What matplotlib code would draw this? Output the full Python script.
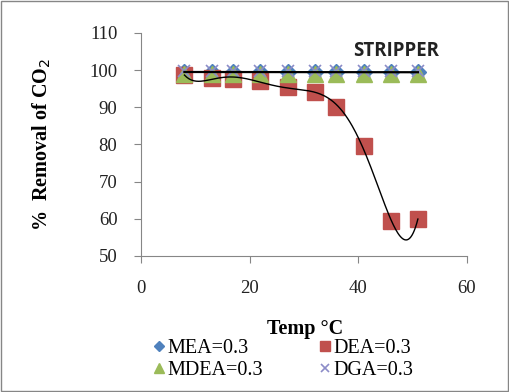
import numpy as np
import matplotlib
matplotlib.use('Agg')
import matplotlib.pyplot as plt
from matplotlib.patches import Rectangle

temp = [8, 13, 17, 22, 27, 32, 36, 41, 46, 51]
mea = [99.4, 99.5, 99.5, 99.5, 99.5, 99.5, 99.5, 99.4, 99.4, 99.4]
dea = [98.6, 97.9, 97.5, 97.0, 95.5, 94.0, 90.0, 79.5, 59.5, 60.0]
mdea = [99.0, 99.0, 99.0, 99.0, 99.0, 99.0, 99.0, 99.0, 99.0, 99.0]
dga = [99.8, 99.8, 99.8, 99.8, 99.8, 99.8, 99.8, 99.8, 99.8, 99.8]

serif = ['Liberation Serif', 'DejaVu Serif']

fig = plt.figure(figsize=(5.09, 3.92), dpi=100)
ax = fig.add_axes([0.277, 0.347, 0.64, 0.569])

h_mea, = ax.plot(temp, mea, linestyle='none', marker='D', color='#4F81BD', markersize=8, label='MEA=0.3')
h_dea, = ax.plot(temp, dea, linestyle='none', marker='s', color='#C0504D', markersize=11, label='DEA=0.3')
h_mdea, = ax.plot(temp, mdea, linestyle='none', marker='^', color='#9BBB59', markersize=11, label='MDEA=0.3')
h_dga, = ax.plot(temp, dga, linestyle='none', marker='x', color='#8C8CC8', markersize=9, markeredgewidth=1.2, label='DGA=0.3')

# trendlines (Excel-style polynomial)
xs = np.linspace(temp[0], temp[-1], 200)
p_dea = np.polyfit(temp, dea, 6)
ax.plot(xs, np.polyval(p_dea, xs), color='black', lw=1.0)
p_top = np.polyfit(temp, mea, 1)
ax.plot(xs, np.polyval(p_top, xs), color='black', lw=1.6)

ax.set_xlim(0, 60)
ax.set_ylim(50, 110)
ax.set_xticks([0, 20, 40, 60])
ax.set_yticks(range(50, 111, 10))
for s in ['top', 'right']:
    ax.spines[s].set_visible(False)
for s in ['left', 'bottom']:
    ax.spines[s].set_color('#868686')
ax.tick_params(axis='both', colors='#868686', labelcolor='#222222', length=5, labelsize=13.5)
for lab in ax.get_xticklabels() + ax.get_yticklabels():
    lab.set_family(serif)
ax.tick_params(axis='x', pad=12)
ax.tick_params(axis='y', pad=12)

ax.set_ylabel('%  Removal of CO$_2$', family=serif, fontweight='bold', fontsize=14.5, labelpad=26)
fig.text(0.60, 0.16, 'Temp \u00b0C', family=serif, fontweight='bold', fontsize=14.5,
         ha='center', va='center')
ax.text(0.915, 0.92, 'STRIPPER', transform=ax.transAxes, ha='right', va='center',
        family=['Open Sans', 'DejaVu Sans'], fontweight='bold', fontsize=13.5, color='#222222')

leg = fig.legend([h_mea, h_mdea, h_dea, h_dga], ['MEA=0.3', 'MDEA=0.3', 'DEA=0.3', 'DGA=0.3'],
                 loc='center', bbox_to_anchor=(0.553, 0.082), ncol=2, frameon=False,
                 prop={'family': serif, 'size': 14.5}, handletextpad=0.0, columnspacing=2.6,
                 labelspacing=0.15, handlelength=0.9, markerscale=0.7)

fig.patches.append(Rectangle((0.002, 0.002), 0.996, 0.996, transform=fig.transFigure,
                             fill=False, edgecolor='#868686', lw=1.0))

fig.savefig('out.png', dpi=100)
